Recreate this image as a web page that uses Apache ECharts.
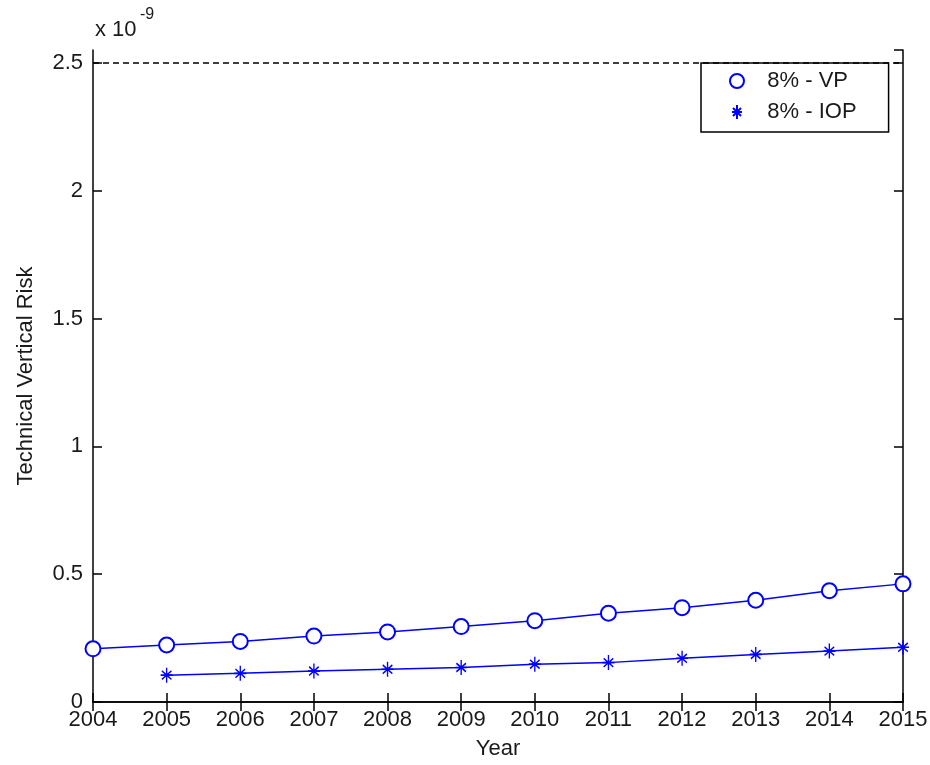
<!DOCTYPE html>
<html>
<head>
<meta charset="utf-8">
<script src="https://cdn.jsdelivr.net/npm/echarts@6/dist/echarts.min.js"></script>
<style>
  html, body { margin: 0; padding: 0; background: #fff; }
  #chart { width: 930px; height: 765px; }
</style>
</head>
<body>
<div id="chart"></div>
<script>
// values are in units of 1e-9
const years = [2004, 2005, 2006, 2007, 2008, 2009, 2010, 2011, 2012, 2013, 2014, 2015]
const vpRisk = [0.208, 0.223, 0.237, 0.258, 0.274, 0.295, 0.318, 0.347, 0.369, 0.398, 0.435, 0.462]
const iopRisk = [null, 0.105, 0.112, 0.121, 0.128, 0.135, 0.148, 0.154, 0.171, 0.186, 0.199, 0.214]
const targetLevel = 2.5
const yTicks = [0, 0.5, 1, 1.5, 2, 2.5]

const seriesNames = ['8% - VP', '8% - IOP']
const blue = '#0000ff'
const font = 'Liberation Sans, Arial, sans-serif'
// matlab style asterisk: long vertical, shorter horizontal and diagonals
const starPath = 'path://M0,-7L0,7M-5,0L5,0M-4,-4L4,4M-4,4L4,-4'

const chart = echarts.init(document.getElementById('chart'))

const pairs = arr => years.map((y, i) => [y, arr[i]]).filter(p => p[1] !== null)

const axisCommon = {
  axisLine: {show: true, lineStyle: {color: '#000', width: 1.5}},
  axisTick: {show: true, inside: true, length: 9, lineStyle: {color: '#000', width: 1.5}},
  splitLine: {show: false},
}

chart.setOption({
  animation: false,
  backgroundColor: '#fff',
  textStyle: {fontFamily: font},
  grid: {left: 93, right: 27, top: 50, bottom: 63, outerBoundsMode: 'none'},
  xAxis: [
    {
      type: 'value', min: 2004, max: 2015, interval: 1,
      name: 'Year', nameLocation: 'middle', nameGap: 36,
      nameTextStyle: {fontSize: 22, color: '#1a1a1a', fontFamily: font},
      axisLabel: {fontSize: 22, color: '#1a1a1a', margin: 7, formatter: v => String(v)},
      ...axisCommon,
    },
    {
      type: 'value', min: 2004, max: 2015, interval: 1, position: 'top',
      axisLabel: {show: false},
      ...axisCommon,
    },
  ],
  yAxis: [
    {
      type: 'value', min: 0, max: 2.55, interval: 0.5,
      name: 'Technical Vertical Risk', nameLocation: 'middle', nameGap: 56,
      nameTextStyle: {fontSize: 22, color: '#1a1a1a', fontFamily: font},
      axisLabel: {
        fontSize: 22, color: '#1a1a1a', margin: 10, showMaxLabel: false,
        formatter: v => (yTicks.includes(v) ? String(v) : ''),
      },
      ...axisCommon,
    },
    {
      type: 'value', min: 0, max: 2.55, interval: 0.5, position: 'right',
      axisLabel: {show: false},
      ...axisCommon,
    },
  ],
  legend: {
    orient: 'vertical',
    left: 701, top: 63,
    padding: [7, 32, 9, 28],
    itemGap: 9,
    itemWidth: 14, itemHeight: 14,
    backgroundColor: '#fff',
    borderColor: '#000', borderWidth: 1.5,
    textStyle: {fontSize: 22, color: '#1a1a1a', fontFamily: font},
    formatter: name => '   ' + name,
    data: [
      {name: seriesNames[0], icon: 'emptyCircle'},
      {name: seriesNames[1], icon: starPath},
    ],
  },
  graphic: [
    {type: 'text', left: 95, top: 19, style: {text: 'x 10', fontSize: 22, fill: '#1a1a1a', fontFamily: font}},
    {type: 'text', left: 140, top: 7, style: {text: '-9', fontSize: 16, fill: '#1a1a1a', fontFamily: font}},
  ],
  series: [
    {
      name: seriesNames[0],
      type: 'line',
      data: pairs(vpRisk),
      symbol: 'emptyCircle',
      symbolSize: 15,
      lineStyle: {color: blue, width: 1.5},
      itemStyle: {color: blue, borderColor: blue, borderWidth: 1.5},
      markLine: {
        silent: true,
        symbol: 'none',
        label: {show: false},
        lineStyle: {color: '#000', type: [6, 4], width: 1.5},
        data: [{yAxis: targetLevel}],
      },
      z: 3,
    },
    {
      name: seriesNames[1],
      type: 'line',
      data: pairs(iopRisk),
      symbol: starPath,
      symbolSize: [12, 15],
      lineStyle: {color: blue, width: 1.5},
      itemStyle: {color: blue, borderColor: blue, borderWidth: 1.5},
      z: 3,
    },
  ],
})
</script>
</body>
</html>
